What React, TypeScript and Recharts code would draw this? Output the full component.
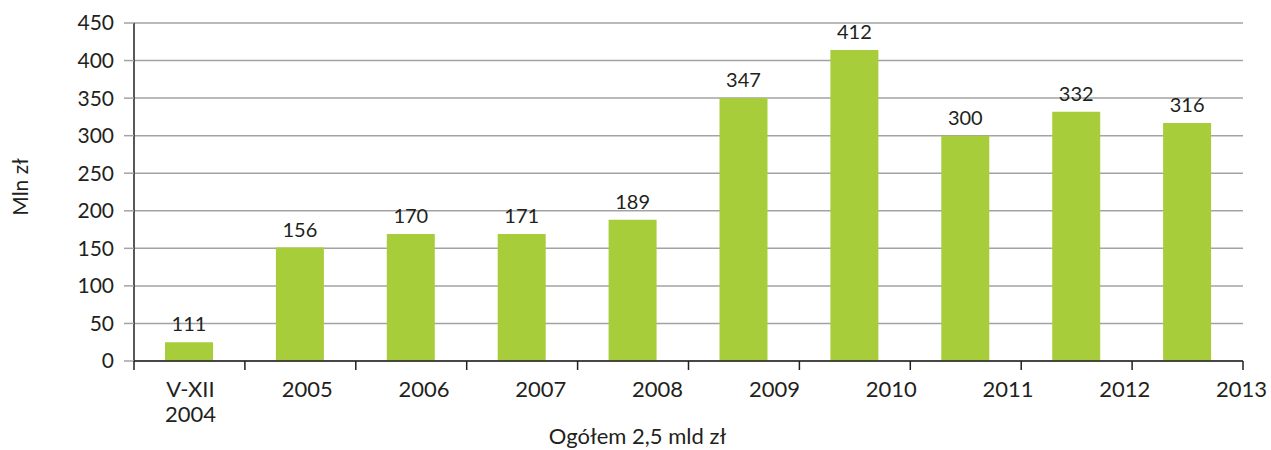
import { Bar, BarChart, CartesianGrid, LabelList, XAxis, YAxis } from "recharts";

const categories = ["V-XII\n2004", "2005", "2006", "2007", "2008", "2009", "2010", "2011", "2012", "2013"];
const barHeights = [25, 151, 169, 169, 188, 350, 414, 300, 332, 317];
const shownValues = [111, 156, 170, 171, 189, 347, 412, 300, 332, 316];
const yTicks = [0, 50, 100, 150, 200, 250, 300, 350, 400, 450];

const data = categories.map((label, i) => ({
  label,
  height: barHeights[i],
  shown: shownValues[i],
}));

const font = "Lato, 'Open Sans', sans-serif";
const ink = "#231f20";

// tick marks sit on the band edges, not the band centres
function BoundaryTick({ x, y, payload, width, visibleTicksCount }: any) {
  const half = payload.offset || width / visibleTicksCount / 2;
  const last = payload.index === visibleTicksCount - 1;
  return (
    <g stroke={ink} strokeWidth={1.5}>
      <line x1={x - half} x2={x - half} y1={y} y2={y + 9} />
      {last && <line x1={x + half} x2={x + half} y1={y} y2={y + 9} />}
    </g>
  );
}

function CategoryTick({ x, y, payload }: any) {
  const lines = String(payload.value).split("\n");
  return (
    <text textAnchor="middle" fill={ink} fontSize={22} fontFamily={font}>
      {lines.map((line, i) => (
        <tspan key={i} x={x} y={y + 35 + i * 25}>
          {line}
        </tspan>
      ))}
    </text>
  );
}

export default function App() {
  return (
    <div style={{ position: "absolute", left: 0, top: 0, width: 1271, height: 450, background: "#fff" }}>
      <BarChart
        width={1271}
        height={450}
        data={data}
        margin={{ top: 23, right: 28, bottom: 2, left: 0 }}
        style={{ fontFamily: font }}
      >
        <CartesianGrid vertical={false} stroke="#a3a3a3" strokeWidth={1.5} xAxisId="cat" />
        <XAxis
          xAxisId="cat"
          dataKey="label"
          height={1}
          tickSize={0}
          tickMargin={0}
          interval={0}
          tickLine={false}
          tick={<BoundaryTick />}
          axisLine={{ stroke: ink, strokeWidth: 1.5 }}
        />
        <XAxis
          xAxisId="labels"
          dataKey="label"
          padding={{ left: -2, right: -57 }}
          axisLine={false}
          tickLine={false}
          tickSize={0}
          tickMargin={0}
          interval={0}
          tick={<CategoryTick />}
          height={86}
          label={{
            value: "Ogółem 2,5 mld zł",
            position: "insideBottom",
            offset: 4,
            dx: -51,
            fill: ink,
            fontSize: 22,
            fontFamily: font,
          }}
        />
        <YAxis
          domain={[0, 450]}
          ticks={yTicks}
          width={134}
          tickSize={10}
          tickMargin={10}
          tick={{ fill: ink, fontSize: 21, fontFamily: font }}
          tickLine={{ stroke: "#a3a3a3", strokeWidth: 1.5 }}
          axisLine={{ stroke: ink, strokeWidth: 1.5 }}
          label={{
            value: "Mln zł",
            angle: -90,
            position: "insideLeft",
            offset: 21,
            dy: -5,
            fill: ink,
            fontSize: 21,
            fontFamily: font,
            style: { textAnchor: "middle" },
          }}
        />
        <Bar xAxisId="cat" dataKey="height" fill="#a8cd3a" barSize={48} isAnimationActive={false}>
          <LabelList dataKey="shown" position="top" offset={11} fill={ink} fontSize={20} fontFamily={font} />
        </Bar>
      </BarChart>
    </div>
  );
}
